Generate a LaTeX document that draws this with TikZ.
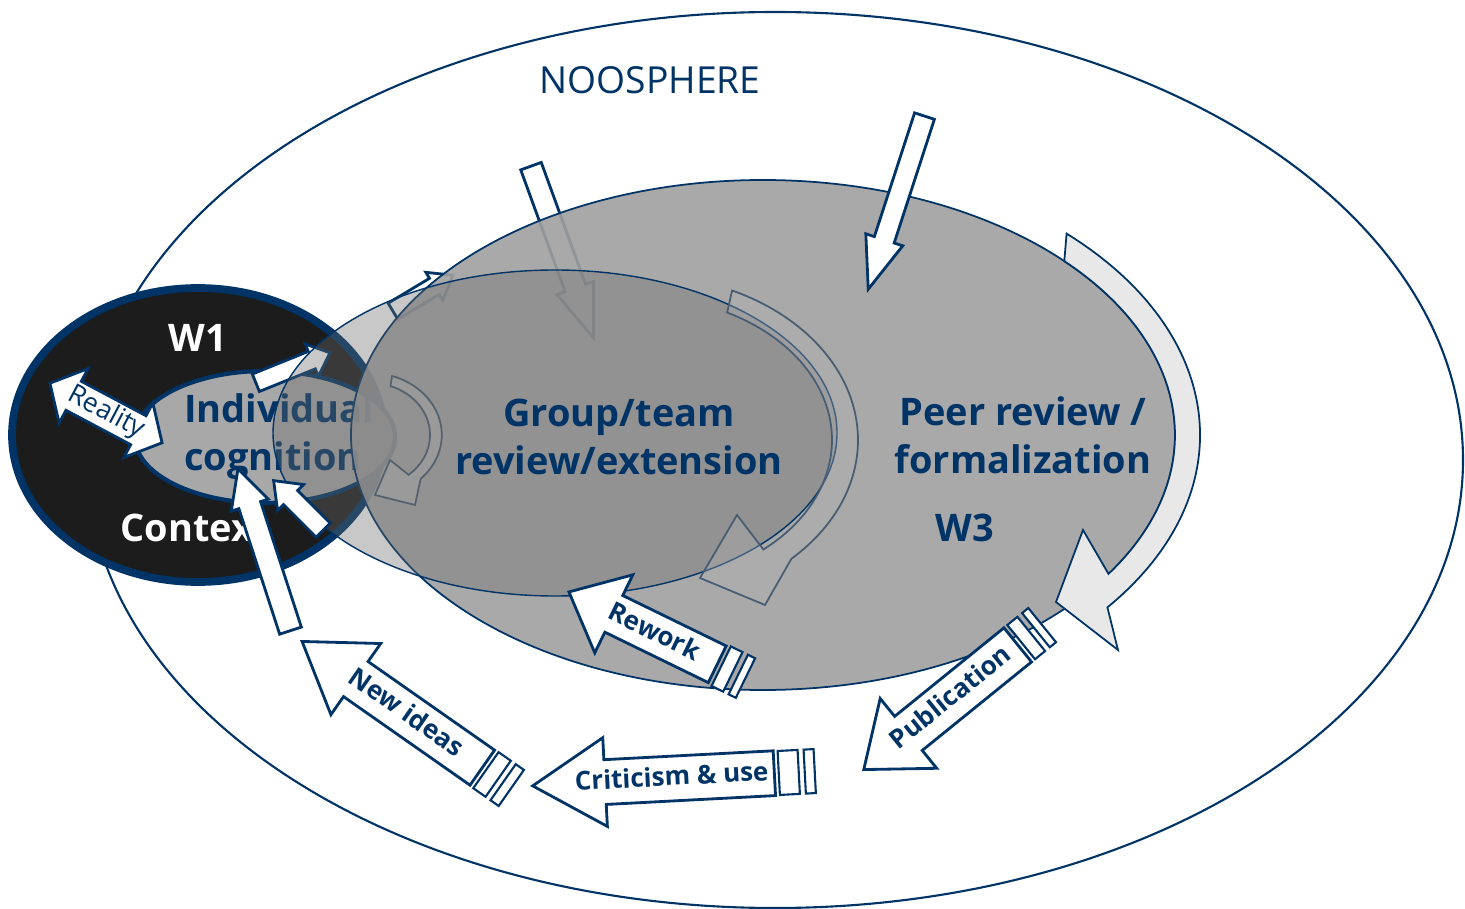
\documentclass[tikz,border=0pt]{standalone}
\usepackage{fontspec}
\setmainfont{Open Sans}
\usetikzlibrary{shapes.arrows}
\definecolor{navy}{RGB}{0,51,102}
\definecolor{ctxblack}{RGB}{28,28,28}
\definecolor{wgrey}{RGB}{160,160,160}
\definecolor{cogfill}{RGB}{168,168,168}
\definecolor{bandfill}{RGB}{232,232,232}
\tikzset{
  zone/.style={draw=navy, line width=0.5pt},
  worldtext/.style={font=\fontsize{10.8}{13.7}\selectfont\bfseries, text=navy, align=center},
  plainarrow/.style={single arrow, draw=navy, fill=white, line width=0.8pt, inner xsep=0pt, anchor=tip},
  tagarrow/.style={single arrow, shape border rotate=180, draw=navy, fill=white, line width=0.8pt,
    anchor=tip, text=navy, font=\fontsize{7.4}{9}\selectfont\bfseries, text height=2mm, text depth=0.6mm, inner xsep=1mm},
  tailbar/.style={draw=navy, fill=white, line width=0.6pt, inner sep=0pt, minimum height=4.4mm, outer xsep=0.3mm, anchor=west},
  loopband/.style={draw=navy!45!gray, line width=0.5pt, fill=gray!30, fill opacity=0.3},
}
\begin{document}
\begin{tikzpicture}[x=0.1mm,y=-0.1mm]
\useasboundingbox (0,0) rectangle (1465,909);
% noosphere
\draw[navy, line width=0.6pt, fill=white] (775,460) ellipse [x radius=688, y radius=448];
\node[text=navy, font=\fontsize{10.6}{12}\selectfont] (noosphere) at (650,80) {NOOSPHERE};
% W1 and individual cognition
\draw[navy, line width=2.2pt, fill=ctxblack] (198,435) ellipse [x radius=186, y radius=147];
\draw[navy, line width=1.2pt, fill=cogfill] (265,437) ellipse [x radius=130, y radius=66];
\node[worldtext, text=white] (w1) at (198,338) {W1};
\node[worldtext, text=white, anchor=west] (context) at (108,528) {Context};
\node[worldtext, align=left, anchor=west] (indiv) at (172,437) {Individual\\cognition};
\node[double arrow, draw=navy, fill=white, line width=0.8pt, rotate=-28, text=navy,
  font=\fontsize{7.6}{8}\selectfont, text height=1.8mm, text depth=0.5mm, inner ysep=0.35mm, inner xsep=0pt,
  minimum height=12.7mm, double arrow head extend=1.45mm, double arrow tip angle=98] (reality) at (106,413) {Reality};
\node[plainarrow, rotate=22, minimum height=8mm, inner ysep=0.8mm, single arrow head extend=0.8mm,
  single arrow tip angle=83] (tocog) at (332,352) {};
% arrows into the group
\node[plainarrow, rotate=-70, minimum height=18.3mm, inner ysep=0.95mm, single arrow head extend=0.85mm,
  single arrow tip angle=40] (groupin) at (595,342) {};
\node[plainarrow, rotate=31, minimum height=7mm, inner ysep=0.8mm, single arrow head extend=0.7mm,
  single arrow tip angle=74] (togroup) at (455,274) {};
% W3
\draw[zone, fill=wgrey, fill opacity=0.9] (763,435) ellipse [x radius=412, y radius=255];
\draw[loopband] (392,376) arc[start angle=-72, end angle=45, x radius=72, y radius=62]
  -- (415,505) -- (375,495) -- (390,460) -- (408.6,474.8)
  arc[start angle=50, end angle=-70, x radius=60, y radius=52] -- cycle;
% group / team
\draw[navy, line width=0.4pt, fill=black!58, fill opacity=0.37] (555,433) ellipse [x radius=282, y radius=163];
\draw[loopband, fill=gray!60, fill opacity=0.35] (732.1,290.5) arc[start angle=-65, end angle=46, x radius=218, y radius=165]
  -- (765,605) -- (700,578) -- (737,515) -- (763.4,549.5)
  arc[start angle=50, end angle=-63, x radius=192, y radius=143] -- cycle;
\draw[navy, line width=0.5pt, fill=bandfill] (1066.6,233.6) arc[start angle=-46, end angle=38, x radius=437, y radius=280]
  -- (1118,650) -- (1056,602) -- (1083,530) -- (1108.5,573.9)
  arc[start angle=33, end angle=-43, x radius=412, y radius=255] -- cycle;
\node[plainarrow, rotate=-108, minimum height=18.2mm, inner ysep=0.9mm, single arrow head extend=0.9mm,
  single arrow tip angle=41] (w3in) at (867,293) {};
\node[worldtext] (group) at (619,437) {Group/team\\review/extension};
\node[worldtext] (peer) at (1023,435) {Peer review /\\formalization};
\node[worldtext] (w3) at (965,528) {W3};
% arrows back into cognition
\node[plainarrow, rotate=108, minimum height=17mm, inner ysep=1mm, single arrow head extend=0.8mm,
  single arrow tip angle=54] (upcog) at (237,466) {};
\node[plainarrow, rotate=135, minimum height=7mm, inner ysep=0.85mm, single arrow head extend=0.85mm,
  single arrow tip angle=75] (backcog) at (272,479) {};
% labelled arrows
\node[tagarrow, rotate=-26, minimum height=16.5mm, inner ysep=0.6mm, single arrow head extend=2.3mm,
  single arrow tip angle=82] (rework) at (567,591) {Rework};
\node[tailbar, rotate=-26, minimum width=1.3mm] (reworkbarA) at (rework.tail) {};
\node[tailbar, rotate=-26, minimum width=0.8mm] (reworkbarB) at (reworkbarA.east) {};
\node[tagarrow, rotate=39, minimum height=19.3mm, inner ysep=0.75mm, single arrow head extend=2.3mm,
  single arrow tip angle=76] (publication) at (862,771) {Publication};
\node[tailbar, rotate=39, minimum width=1.3mm] (publicationbarA) at (publication.tail) {};
\node[tailbar, rotate=39, minimum width=0.8mm] (publicationbarB) at (publicationbarA.east) {};
\node[tagarrow, rotate=3, minimum height=24.2mm, inner ysep=0.8mm, inner xsep=0.3mm, single arrow head extend=2.2mm,
  single arrow tip angle=63] (criticism) at (530,786) {Criticism \& use};
\node[tailbar, rotate=3, minimum width=2mm] (criticismbarA) at (criticism.tail) {};
\node[tailbar, rotate=3, minimum width=1mm] (criticismbarB) at (criticismbarA.east) {};
\node[tagarrow, rotate=-35, minimum height=22mm, inner ysep=0.7mm, single arrow head extend=2.2mm,
  single arrow tip angle=67] (newideas) at (300,640) {New ideas};
\node[tailbar, rotate=-35, minimum width=1.5mm] (newideasbarA) at (newideas.tail) {};
\node[tailbar, rotate=-35, minimum width=1mm] (newideasbarB) at (newideasbarA.east) {};
\end{tikzpicture}
\end{document}
